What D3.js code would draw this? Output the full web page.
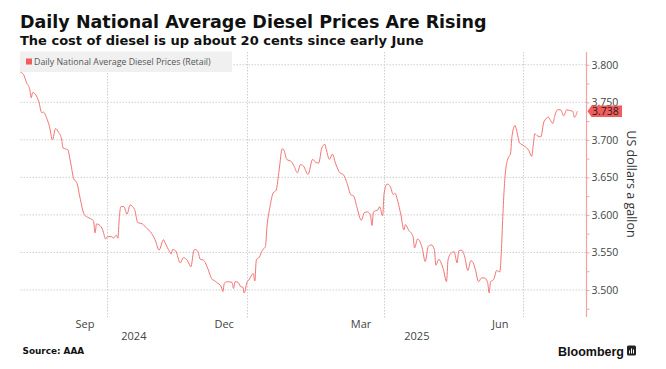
<!DOCTYPE html>
<html><head><meta charset="utf-8">
<script src="https://cdn.jsdelivr.net/npm/d3@7"></script>
<style>
html,body{margin:0;padding:0;background:#fff;}
svg{display:block;}
</style></head>
<body>
<svg id="chart" width="666" height="369"></svg>
<script>
const title = "Daily National Average Diesel Prices Are Rising";
const subtitle = "The cost of diesel is up about 20 cents since early June";
const seriesName = "Daily National Average Diesel Prices (Retail)";
const yTitle = "US dollars a gallon";
const sourceText = "Source: AAA";

const dates = [
"2024-08-05","2024-08-07","2024-08-09","2024-08-11","2024-08-12","2024-08-13","2024-08-15","2024-08-17","2024-08-19","2024-08-20",
"2024-08-22","2024-08-24","2024-08-26","2024-08-28","2024-08-30","2024-09-01","2024-09-02","2024-09-05","2024-09-07","2024-09-09",
"2024-09-11","2024-09-13","2024-09-16","2024-09-18","2024-09-22","2024-09-23","2024-09-24","2024-09-27","2024-09-28","2024-09-30",
"2024-10-01","2024-10-04","2024-10-05","2024-10-07","2024-10-08","2024-10-09","2024-10-10","2024-10-12","2024-10-14","2024-10-16",
"2024-10-19","2024-10-21","2024-10-24","2024-10-27","2024-10-30","2024-11-02","2024-11-04","2024-11-07","2024-11-08","2024-11-11",
"2024-11-12","2024-11-13","2024-11-15","2024-11-18","2024-11-20","2024-11-22","2024-11-23","2024-11-25","2024-11-27","2024-11-28",
"2024-11-30","2024-12-01","2024-12-03","2024-12-04","2024-12-06","2024-12-09","2024-12-10","2024-12-12","2024-12-15","2024-12-16",
"2024-12-17","2024-12-19","2024-12-22","2024-12-23","2024-12-24","2024-12-26","2024-12-28","2024-12-29","2024-12-30","2025-01-01",
"2025-01-02","2025-01-04","2025-01-05","2025-01-06","2025-01-07","2025-01-09","2025-01-11","2025-01-13","2025-01-14","2025-01-16",
"2025-01-18","2025-01-20","2025-01-22","2025-01-24","2025-01-25","2025-01-27","2025-01-30","2025-02-01","2025-02-03","2025-02-05",
"2025-02-07","2025-02-10","2025-02-13","2025-02-15","2025-02-17","2025-02-19","2025-02-21","2025-02-22","2025-02-24","2025-02-26",
"2025-02-28","2025-03-03","2025-03-05","2025-03-08","2025-03-10","2025-03-12","2025-03-14","2025-03-17","2025-03-19","2025-03-21",
"2025-03-23","2025-03-24","2025-03-25","2025-03-28","2025-03-29","2025-03-31","2025-04-01","2025-04-03","2025-04-05","2025-04-07",
"2025-04-08","2025-04-10","2025-04-12","2025-04-14","2025-04-15","2025-04-17","2025-04-20","2025-04-21","2025-04-23","2025-04-25",
"2025-04-26","2025-04-28","2025-04-30","2025-05-02","2025-05-04","2025-05-05","2025-05-07","2025-05-08","2025-05-10","2025-05-12",
"2025-05-13","2025-05-15","2025-05-17","2025-05-19","2025-05-20","2025-05-22","2025-05-24","2025-05-26","2025-05-28","2025-05-29",
"2025-05-31","2025-06-02","2025-06-04","2025-06-06","2025-06-08","2025-06-09","2025-06-10","2025-06-12","2025-06-14","2025-06-16",
"2025-06-17","2025-06-18","2025-06-19","2025-06-20","2025-06-22","2025-06-23","2025-06-24","2025-06-26","2025-06-27","2025-06-29",
"2025-07-02","2025-07-05","2025-07-07","2025-07-08","2025-07-09","2025-07-11","2025-07-13","2025-07-15","2025-07-18","2025-07-19",
"2025-07-21","2025-07-22","2025-07-24","2025-07-26","2025-07-28","2025-07-30","2025-08-01","2025-08-03","2025-08-04","2025-08-06"
];
const prices = [
3.790,3.787,3.776,3.768,3.756,3.763,3.760,3.751,3.736,3.737,
3.730,3.718,3.700,3.715,3.710,3.701,3.689,3.687,3.669,3.648,
3.643,3.624,3.600,3.597,3.592,3.576,3.588,3.584,3.580,3.568,
3.571,3.571,3.569,3.573,3.569,3.598,3.611,3.611,3.601,3.613,
3.607,3.590,3.588,3.582,3.576,3.564,3.553,3.567,3.563,3.551,
3.548,3.554,3.552,3.536,3.543,3.541,3.538,3.531,3.553,3.554,
3.549,3.541,3.540,3.538,3.529,3.514,3.513,3.510,3.504,3.498,
3.509,3.511,3.510,3.502,3.511,3.510,3.504,3.504,3.496,3.511,
3.513,3.520,3.522,3.512,3.540,3.544,3.553,3.558,3.584,3.611,
3.629,3.633,3.660,3.688,3.687,3.674,3.671,3.664,3.656,3.667,
3.665,3.654,3.674,3.670,3.669,3.689,3.694,3.687,3.674,3.681,
3.669,3.656,3.654,3.640,3.627,3.625,3.611,3.593,3.603,3.604,
3.600,3.586,3.604,3.607,3.611,3.599,3.629,3.641,3.638,3.627,
3.629,3.618,3.600,3.580,3.587,3.580,3.571,3.556,3.568,3.562,
3.556,3.538,3.558,3.560,3.554,3.533,3.541,3.538,3.527,3.511,
3.540,3.549,3.551,3.536,3.552,3.553,3.544,3.526,3.539,3.538,
3.527,3.511,3.516,3.516,3.510,3.496,3.511,3.514,3.526,3.524,
3.550,3.598,3.638,3.662,3.678,3.681,3.704,3.719,3.713,3.696,
3.692,3.686,3.678,3.693,3.708,3.705,3.704,3.724,3.730,3.727,
3.722,3.731,3.740,3.740,3.732,3.740,3.739,3.738,3.730,3.738
];
const yTickValues = [3.5, 3.55, 3.6, 3.65, 3.7, 3.75, 3.8];
const yMinorValues = [3.475, 3.525, 3.575, 3.625, 3.675, 3.725, 3.775];
const monthLabels = ["Sep","Dec","Mar","Jun"];
const monthStarts = ["2024-09-01","2024-12-01","2025-03-01","2025-06-01"];
const gridDates = ["2024-10-01","2025-01-01","2025-04-01","2025-07-01"];
const yearLabels = ["2024","2025"];
const yearStarts = ["2024-01-01","2025-01-01"];
const lastValue = 3.738;

const parse = d3.timeParse("%Y-%m-%d");
const data = dates.map((d,i)=>({date:parse(d), value:prices[i]}));

const svg = d3.select("#chart");
const pLeft = 20.5, pRight = 586.5, pTop = 52, pBottom = 317;

const x = d3.scaleTime()
  .domain([parse("2024-08-05"), parse("2025-08-12")])
  .range([pLeft, pRight]);
const y = d3.scaleLinear()
  .domain([3.464, 3.817])
  .range([pBottom, pTop]);

const FONTB = "'DejaVu Sans', Verdana, sans-serif";
const FONT = "'Liberation Sans', Arial, sans-serif";
const FONT2 = "'Open Sans', 'Noto Sans', sans-serif";

// Titles, sized to the reference widths
function fitText(t, target) {
  const w = t.node().getComputedTextLength();
  const fs = parseFloat(t.attr("font-size"));
  t.attr("font-size", fs * target / w);
}
const tt = svg.append("text").attr("x",20).attr("y",28)
  .attr("font-family",FONTB).attr("font-weight","bold").attr("font-size",18)
  .attr("fill","#111").text(title);
fitText(tt, 467);
const st = svg.append("text").attr("x",20).attr("y",44.5)
  .attr("font-family",FONTB).attr("font-weight","bold").attr("font-size",13)
  .attr("fill","#111").text(subtitle);
fitText(st, 404);

// Horizontal gridlines
svg.append("g").selectAll("line").data(yTickValues).join("line")
  .attr("x1",pLeft).attr("x2",pRight)
  .attr("y1",d=>y(d)).attr("y2",d=>y(d))
  .attr("stroke","#cfcfcf").attr("stroke-width",1)
  .attr("stroke-dasharray","1.5,1.5");

// Vertical gridlines
svg.append("g").selectAll("line").data(gridDates.map(parse)).join("line")
  .attr("x1",d=>Math.round(x(d))+0.5).attr("x2",d=>Math.round(x(d))+0.5)
  .attr("y1",pTop).attr("y2",pBottom+2)
  .attr("stroke","#cfcfcf").attr("stroke-width",1)
  .attr("stroke-dasharray","1.5,1.5");

// Legend
const lg = svg.append("g");
lg.append("rect").attr("x",20).attr("y",51.5).attr("width",212).attr("height",20.5).attr("fill","#f0f0f0");
lg.append("rect").attr("x",26).attr("y",58.5).attr("width",6).attr("height",6).attr("fill","#f25c5c");
lg.append("text").attr("x",34).attr("y",65)
  .attr("font-family",FONT2).attr("font-size",8.8)
  .attr("fill","#555").text(seriesName);

// Line
const line = d3.line().x(d=>x(d.date)).y(d=>y(d.value)).curve(d3.curveMonotoneX);
svg.append("path").datum(data)
  .attr("d",line).attr("fill","none")
  .attr("stroke","#f37373").attr("stroke-width",1).attr("stroke-linejoin","round");

// Y axis (right)
const yAxis = svg.append("g").attr("transform",`translate(${pRight},0)`)
  .call(d3.axisRight(y).tickValues(yTickValues).tickFormat(d3.format(".3f")).tickSize(3).tickPadding(2));
yAxis.select(".domain").remove();
yAxis.selectAll(".tick line").attr("stroke","#f4a3a3");
yAxis.selectAll(".tick text").attr("font-family",FONT2)
  .attr("font-size",10.5).attr("fill","#444");
svg.append("g").attr("transform",`translate(${pRight},0)`)
  .call(d3.axisRight(y).tickValues(yMinorValues).tickFormat("").tickSize(3))
  .call(g=>g.select(".domain").remove())
  .selectAll(".tick line").attr("stroke","#f4a3a3");
svg.append("line").attr("x1",pRight).attr("x2",pRight).attr("y1",pTop).attr("y2",pBottom)
  .attr("stroke","#f4a3a3").attr("stroke-width",1.2);

// Y axis title
svg.append("text")
  .attr("transform",`translate(${627},${184}) rotate(90)`)
  .attr("text-anchor","middle")
  .attr("font-family",FONT2).attr("font-size",12.5)
  .attr("fill","#333").text(yTitle);

// Last value tag
const ty = y(lastValue);
svg.append("path")
  .attr("d",`M${pRight+1},${ty} L${pRight+5},${ty-5.8} L${pRight+35.5},${ty-5.8} L${pRight+35.5},${ty+5.8} L${pRight+5},${ty+5.8} Z`)
  .attr("fill","#f25c5c");
svg.append("text").attr("x",pRight+5.5).attr("y",ty+4)
  .attr("font-family",FONT2).attr("font-size",10.5)
  .attr("fill","#222").text(d3.format(".3f")(lastValue));

// X axis month labels (centred in month)
const monthMid = monthStarts.map(s=>{const a=parse(s); const b=d3.timeMonth.offset(a,1); return new Date((+a + +b)/2);});
const xAxis = svg.append("g").attr("transform",`translate(0,${pBottom})`)
  .call(d3.axisBottom(x).tickValues(monthMid).tickFormat((d,i)=>monthLabels[i]).tickSize(0).tickPadding(3.5));
xAxis.select(".domain").remove();
xAxis.selectAll(".tick text").attr("font-family",FONT2)
  .attr("font-size",11).attr("fill","#444");

// Year labels centred in visible span
yearStarts.forEach((s,i)=>{
  const a = d3.max([parse(s), x.domain()[0]]);
  const b = d3.min([d3.timeYear.offset(parse(s),1), x.domain()[1]]);
  svg.append("text").attr("x",(x(a)+x(b))/2).attr("y",340)
    .attr("text-anchor","middle")
    .attr("font-family",FONT2).attr("font-size",11)
    .attr("fill","#444").text(yearLabels[i]);
});

// Footer
svg.append("text").attr("x",22.5).attr("y",353.5)
  .attr("font-family",FONTB).attr("font-weight","bold").attr("font-size",8.9)
  .attr("fill","#111").text(sourceText);
svg.append("text").attr("x",624).attr("y",355.5).attr("text-anchor","end")
  .attr("font-family",FONT).attr("font-weight","bold").attr("font-size",12.5)
  .attr("fill","#111").text("Bloomberg");
const ic = svg.append("g").attr("transform","translate(627,345.5)");
ic.append("rect").attr("width",9).attr("height",10).attr("rx",1.5).attr("fill","#222");
[[2,5,1,3],[4,3,1,5],[6,4,1,4]].forEach(([bx,by,bw,bh])=>
  ic.append("rect").attr("x",bx).attr("y",by).attr("width",bw).attr("height",bh).attr("fill","#fff"));
</script>
</body></html>
